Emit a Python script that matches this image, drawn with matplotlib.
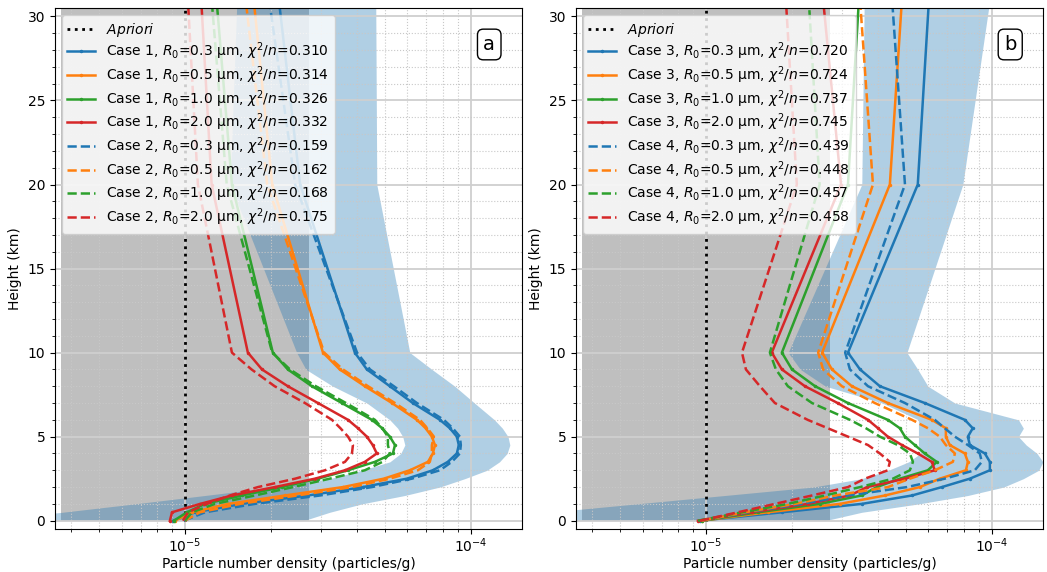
import numpy as np
import matplotlib
matplotlib.use("Agg")
import matplotlib.pyplot as plt
from matplotlib.ticker import MultipleLocator

# Configuration
OUTPUT_PLOT = "out.png"
SCALE = 1e-5  # densities below are in units of 1e-5 particles/g

heights = [0, 0.5, 1, 1.5, 2, 2.5, 3, 3.5, 4, 4.5, 5, 5.5, 6, 7, 8, 9, 10, 20, 31]
apriori = 1.0  # a priori density (x1e-5)
radii = ["0.3", "0.5", "1.0", "2.0"]

# Panel a: Case 1 (solid) and Case 2 (dashed)
case1 = {
    "0.3": [0.908, 1.084, 1.583, 2.69, 4.19, 5.98, 7.37, 8.31, 8.94, 9.08, 8.94, 8.45, 7.80, 6.27, 5.21, 4.33, 3.93, 2.53, 2.13],
    "0.5": [0.923, 1.058, 1.414, 2.237, 3.57, 4.96, 6.12, 7.08, 7.37, 7.49, 7.31, 6.95, 6.48, 5.30, 4.26, 3.48, 3.04, 2.02, 1.74],
    "1.0": [0.915, 1.016, 1.175, 1.583, 2.18, 2.92, 3.72, 4.62, 5.34, 5.43, 5.21, 4.90, 4.51, 3.54, 2.78, 2.29, 2.03, 1.46, 1.29],
    "2.0": [0.886, 0.901, 1.13, 1.46, 2.06, 2.85, 3.63, 4.26, 4.69, 4.54, 4.33, 4.03, 3.72, 2.92, 2.29, 1.86, 1.66, 1.24, 1.14],
}
case2 = {
    "0.3": [0.992, 1.175, 1.757, 2.97, 4.51, 6.22, 7.80, 8.58, 9.16, 9.23, 9.16, 8.65, 8.05, 6.48, 5.38, 4.44, 4.00, 2.43, 1.97],
    "0.5": [1.00, 1.128, 1.557, 2.47, 3.84, 5.21, 6.53, 7.19, 7.31, 7.31, 7.43, 7.05, 6.64, 5.43, 4.37, 3.57, 3.07, 1.94, 1.63],
    "1.0": [1.00, 1.058, 1.273, 1.757, 2.39, 3.21, 4.26, 4.91, 5.21, 5.13, 5.13, 4.90, 4.62, 3.66, 2.87, 2.33, 2.02, 1.40, 1.24],
    "2.0": [0.984, 1.024, 1.194, 1.437, 1.80, 2.43, 3.09, 3.63, 3.84, 3.87, 3.72, 3.50, 3.27, 2.63, 2.06, 1.71, 1.46, 1.11, 1.024],
}
chi_case1 = ["0.310", "0.314", "0.326", "0.332"]
chi_case2 = ["0.159", "0.162", "0.168", "0.175"]
band_a_low = [0.192, 0.372, 0.668, 1.175, 2.06, 3.21, 4.16, 5.21, 5.69, 5.88, 5.78, 5.55, 5.21, 4.33, 3.29, 2.65, 2.46, 1.44, 1.52]
band_a_high = [2.6, 3.21, 4.16, 5.88, 7.79, 9.53, 11.4, 12.6, 13.4, 13.7, 13.5, 12.9, 12.1, 10.3, 8.79, 7.31, 6.12, 4.69, 4.65]

# Panel b: Case 3 (solid) and Case 4 (dashed)
case3 = {
    "0.3": [0.953, 1.844, 3.51, 5.26, 6.69, 8.38, 9.85, 9.85, 9.46, 8.38, 8.25, 8.58, 8.05, 5.83, 4.06, 3.46, 3.14, 5.51, 6.03],
    "0.5": [0.968, 1.648, 2.94, 4.23, 5.60, 6.58, 8.12, 8.25, 8.05, 7.13, 6.91, 6.91, 6.17, 4.33, 3.24, 2.76, 2.55, 4.40, 4.85],
    "1.0": [0.968, 1.52, 2.50, 3.51, 3.96, 4.77, 5.98, 6.42, 5.83, 5.38, 4.97, 4.77, 4.33, 3.14, 2.41, 2.00, 1.844, 3.14, 3.43],
    "2.0": [0.938, 1.448, 2.27, 3.19, 3.66, 4.97, 6.32, 6.17, 5.51, 4.85, 4.33, 4.00, 3.69, 2.89, 2.22, 1.844, 1.70, 2.97, 2.57],
}
case4 = {
    "0.3": [0.968, 1.402, 2.16, 3.14, 5.05, 6.85, 8.72, 9.23, 9.08, 8.25, 7.43, 6.85, 6.32, 4.97, 3.69, 3.19, 3.07, 4.97, 4.48],
    "0.5": [0.968, 1.366, 2.05, 2.83, 4.33, 5.17, 6.32, 7.31, 7.43, 6.91, 6.58, 5.98, 5.26, 3.90, 2.99, 2.57, 2.47, 3.84, 3.46],
    "1.0": [0.938, 1.337, 1.935, 2.61, 3.46, 4.51, 5.17, 5.30, 5.17, 4.69, 4.06, 3.63, 3.19, 2.35, 1.935, 1.757, 1.674, 2.50, 2.29],
    "2.0": [0.953, 1.293, 1.743, 2.35, 3.14, 3.60, 4.33, 4.40, 4.06, 3.69, 3.14, 2.67, 2.27, 1.743, 1.545, 1.380, 1.337, 2.08, 1.904],
}
chi_case3 = ["0.720", "0.724", "0.737", "0.745"]
chi_case4 = ["0.439", "0.448", "0.457", "0.458"]
band_b_low = [0.137, 0.281, 0.573, 1.166, 2.37, 3.51, 4.35, 5.12, 5.63, 5.54, 5.54, 5.54, 5.54, 4.14, 2.62, 2.14, 1.94, 3.51, 3.58]
band_b_high = [2.61, 3.51, 5.56, 8.25, 11.0, 12.9, 14.6, 15.1, 14.4, 13.2, 12.4, 12.9, 12.4, 7.43, 5.98, 5.51, 5.05, 7.92, 9.85]

COLORS = ["tab:blue", "tab:orange", "tab:green", "tab:red"]


def draw_panel(ax, solid, dashed, chi_solid, chi_dashed, n_solid, n_dashed, low, high, tag):
    h = np.array(heights)
    # a priori uncertainty range (x e^{+-1})
    ax.fill_betweenx([0, 31], apriori * SCALE / np.e, apriori * SCALE * np.e,
                     color="gray", alpha=0.5, linewidth=0)
    ax.fill_betweenx(h, np.array(low) * SCALE, np.array(high) * SCALE,
                     color="tab:blue", alpha=0.35, linewidth=0)

    ax.plot(np.full(len(h), apriori * SCALE), h, color="k", linestyle=":",
            linewidth=2, label=r"$\it{Apriori}$")
    for r, c, chi in zip(radii, COLORS, chi_solid):
        ax.plot(np.array(solid[r]) * SCALE, h, color=c, linewidth=1.8, marker=".",
                markersize=3,
                label=f"Case {n_solid}, $R_0$={r} µm, $\\chi^2/n$={chi}")
    for r, c, chi in zip(radii, COLORS, chi_dashed):
        ax.plot(np.array(dashed[r]) * SCALE, h, color=c, linewidth=1.8, linestyle="--",
                label=f"Case {n_dashed}, $R_0$={r} µm, $\\chi^2/n$={chi}")

    ax.set_xscale("log")
    ax.set_xlim(3.51e-6, 1.51e-4)
    ax.set_ylim(-0.5, 30.5)
    ax.set_yticks(range(0, 31, 5))
    ax.yaxis.set_minor_locator(MultipleLocator(1))
    ax.grid(which="major", color="#cfcfcf", linewidth=1.3)
    ax.grid(which="minor", color="#c8c8c8", linestyle=":", linewidth=0.8)
    ax.set_xlabel("Particle number density (particles/g)", fontsize=10)
    # keep the label inside the figure, just under the tick labels
    ax.xaxis.set_label_coords(0.5, -0.080)
    ax.xaxis.label.set_verticalalignment("bottom")
    ax.set_ylabel("Height (km)", fontsize=10)
    ax.tick_params(labelsize=10)
    ax.tick_params(axis="x", which="major", pad=1.5)
    ax.legend(loc="upper left", fontsize=10, labelspacing=0.15)
    ax.text(0.93, 0.93, tag, transform=ax.transAxes, fontsize=14,
            ha="center", va="center",
            bbox=dict(boxstyle="round,pad=0.3", facecolor="white", edgecolor="black"))


fig = plt.figure(figsize=(10.47, 5.72), dpi=100)
ax_a = fig.add_axes([0.0525, 0.075, 0.446, 0.911])
ax_b = fig.add_axes([0.5501, 0.075, 0.446, 0.911])

draw_panel(ax_a, case1, case2, chi_case1, chi_case2, 1, 2, band_a_low, band_a_high, "a")
draw_panel(ax_b, case3, case4, chi_case3, chi_case4, 3, 4, band_b_low, band_b_high, "b")

fig.savefig(OUTPUT_PLOT, dpi=100)
